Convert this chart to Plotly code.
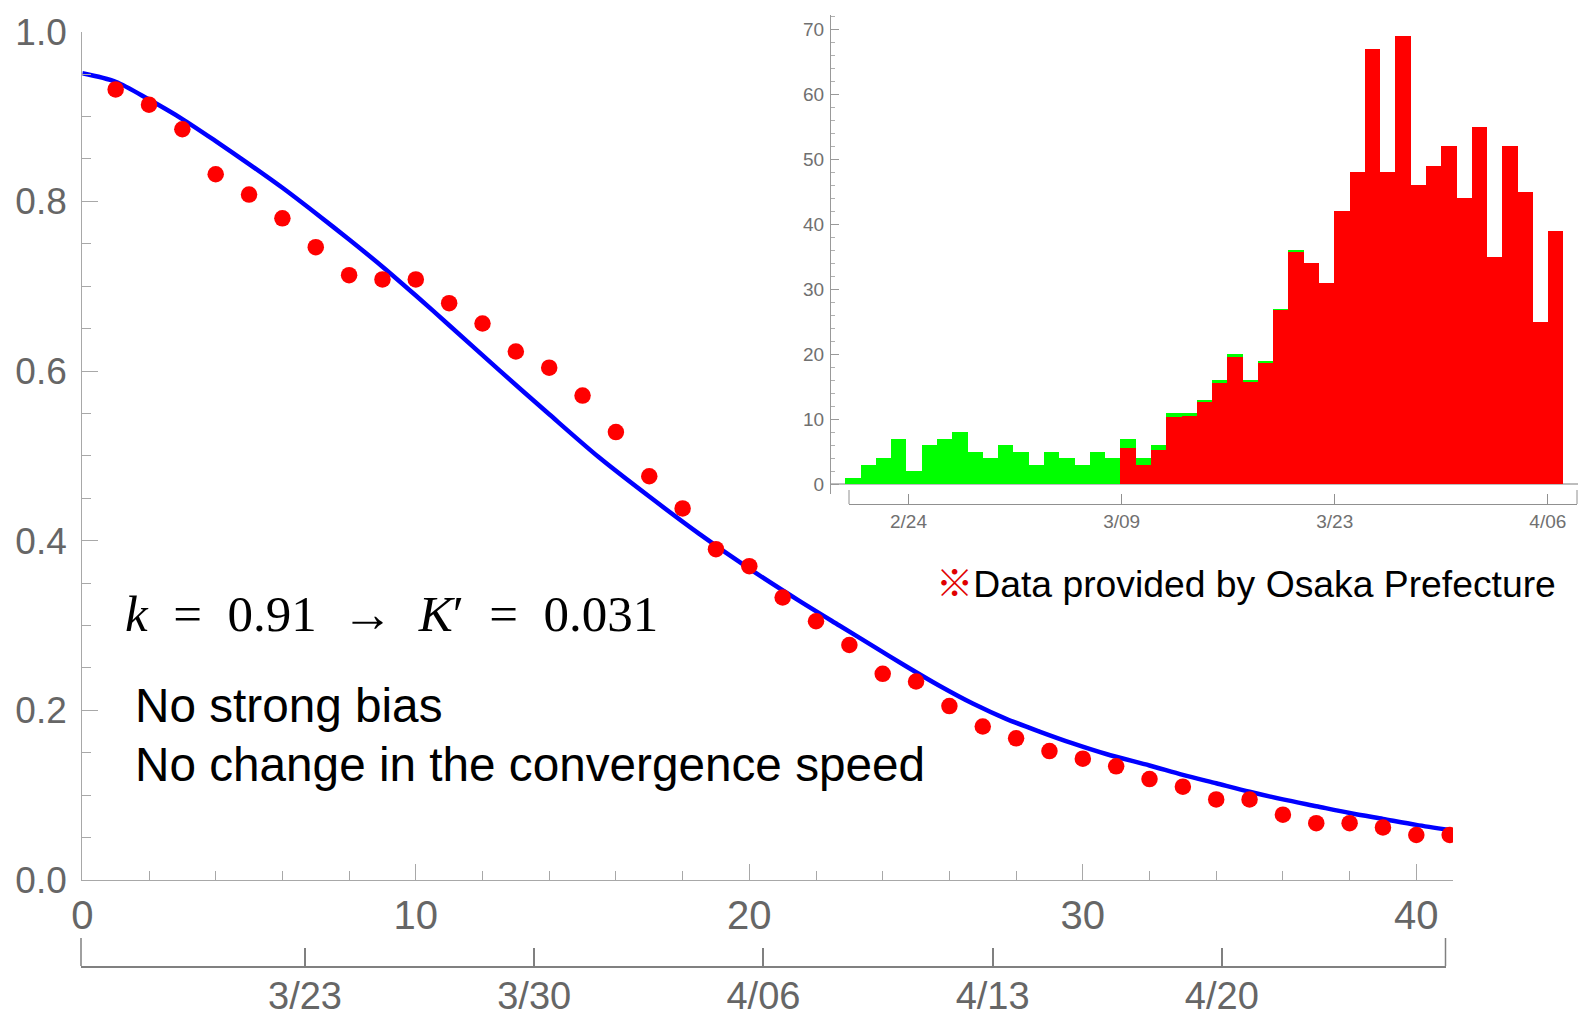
import plotly.graph_objects as go
import pandas as pd

W, H = 1578, 1019

# ---------------- data ----------------
day = list(range(1, 42))
observed = [0.932, 0.914, 0.885, 0.832, 0.808, 0.780, 0.746, 0.713, 0.708, 0.708,
            0.680, 0.656, 0.623, 0.604, 0.571, 0.528, 0.476, 0.438, 0.390, 0.370,
            0.333, 0.305, 0.277, 0.243, 0.234, 0.205, 0.181, 0.167, 0.152, 0.143,
            0.134, 0.119, 0.110, 0.095, 0.095, 0.077, 0.067, 0.067, 0.062, 0.053, 0.053]

fit_t = [0, 1, 2, 3, 4, 5, 6, 7, 8, 9, 10, 11, 12.5, 14, 15.5, 17, 18.5, 20, 21.5,
         22.7, 23.7, 24.7, 25.7, 26.7, 27.7, 28.7, 29.7, 30.7, 32, 33, 34, 35, 36,
         37, 38, 39, 40, 41]
fit_v = [0.951, 0.941, 0.920, 0.897, 0.871, 0.844, 0.816, 0.786, 0.755, 0.723,
         0.689, 0.654, 0.601, 0.549, 0.498, 0.452, 0.408, 0.367, 0.329,
         0.300, 0.276, 0.252, 0.229, 0.208, 0.190, 0.175, 0.161, 0.1485, 0.135,
         0.124, 0.114, 0.104, 0.095, 0.087, 0.079, 0.072, 0.065, 0.059]

x_ticks = [0, 10, 20, 30, 40]
y_ticks = [0.0, 0.2, 0.4, 0.6, 0.8, 1.0]
y_tick_text = ["0.0", "0.2", "0.4", "0.6", "0.8", "1.0"]

date_ticks = ["2020-03-23", "2020-03-30", "2020-04-06", "2020-04-13", "2020-04-20"]
date_tick_text = ["3/23", "3/30", "4/06", "4/13", "4/20"]
date_range = ["2020-03-16 03:50", "2020-04-26 19:55"]

# inset histogram (daily new cases)
inset_total = [1, 3, 4, 7, 2, 6, 7, 8, 5, 4, 6, 5, 3, 5, 4, 3, 5, 4, 7, 4, 6, 11, 11,
               13, 16, 20, 16, 19, 27, 36, 34, 31, 42, 48, 67, 48, 69, 46, 49, 52,
               44, 55, 35, 52, 45, 25, 39]
inset_red = [0, 0, 0, 0, 0, 0, 0, 0, 0, 0, 0, 0, 0, 0, 0, 0, 0, 0, 5.6, 3.0, 5.2,
             10.3, 10.4, 12.7, 15.6, 19.6, 15.7, 18.7, 26.8, 35.7, 34, 31, 42, 48,
             67, 48, 69, 46, 49, 52, 44, 55, 35, 52, 45, 25, 39]
inset_dates = pd.date_range("2020-02-20", periods=len(inset_total))
inset_date_ticks = ["2020-02-24", "2020-03-09", "2020-03-23", "2020-04-06"]
inset_date_text = ["2/24", "3/09", "3/23", "4/06"]
inset_y_ticks = [0, 10, 20, 30, 40, 50, 60, 70]
inset_date_range = ["2020-02-20 02:10", "2020-04-07 22:00"]

DAY_MS = 86400000


def px(x):
    return x / W


def py(y):
    return 1 - y / H


GRAY_TXT = "#666666"
SANS = "Liberation Sans, Arial, sans-serif"

fig = go.Figure()

fig.add_trace(go.Scatter(x=fit_t, y=fit_v, mode="lines",
                         line=dict(color="#0000ff", width=4.5, shape="spline", smoothing=0.8),
                         xaxis="x", yaxis="y", hoverinfo="skip"))
fig.add_trace(go.Scatter(x=day, y=observed, mode="markers",
                         marker=dict(color="#ff0000", size=16.5, line=dict(width=0)),
                         xaxis="x", yaxis="y"))

# carriers for the date axes
for xa, yax, rng in [("x2", "y2", date_range), ("x5", "y5", inset_date_range)]:
    fig.add_trace(go.Scatter(x=rng, y=[0, 0], mode="markers",
                             marker=dict(size=1, opacity=0), xaxis=xa, yaxis=yax,
                             hoverinfo="skip"))

# inset bars
fig.add_trace(go.Bar(x=inset_dates, y=inset_total, marker=dict(color="#00ff00", line=dict(width=0)),
                     width=DAY_MS, offset=-0.2 * DAY_MS, xaxis="x4", yaxis="y4"))
fig.add_trace(go.Bar(x=inset_dates, y=[v if v > 0 else None for v in inset_red],
                     marker=dict(color="#ff0000", line=dict(width=0)),
                     width=DAY_MS, offset=-0.2 * DAY_MS, xaxis="x4", yaxis="y4"))

axis_line = "#a8a8a8"
DATE_LINE_Y = 966
INSET_DATE_LINE_Y = 504

fig.update_layout(
    width=W, height=H,
    margin=dict(l=0, r=0, t=0, b=0, autoexpand=False),
    paper_bgcolor="white", plot_bgcolor="rgba(0,0,0,0)",
    showlegend=False, barmode="overlay", bargap=0,
    xaxis=dict(domain=[px(82.3), px(1453)], range=[0, 41.1], anchor="y", automargin=False,
               showline=True, linecolor=axis_line, linewidth=1.3,
               ticks="inside", ticklen=16, tickwidth=1, tickcolor=axis_line,
               tickvals=x_ticks, ticktext=[str(v) for v in x_ticks],
               minor=dict(tickvals=[v for v in range(2, 41, 2) if v % 10], ticks="inside",
                          ticklen=9, tickcolor=axis_line, tickwidth=1),
               showgrid=False, zeroline=False,
               tickfont=dict(family=SANS, size=40, color=GRAY_TXT)),
    yaxis=dict(domain=[py(880), py(31.7)], range=[0, 1], anchor="x", automargin=False,
               showline=True, linecolor=axis_line, linewidth=1.3,
               ticks="inside", ticklen=16, tickwidth=1, tickcolor=axis_line,
               tickvals=y_ticks, ticktext=y_tick_text, ticklabelstandoff=7,
               minor=dict(tickvals=[i * 0.05 for i in range(1, 20) if i % 4], ticks="inside",
                          ticklen=9, tickcolor=axis_line, tickwidth=1),
               showgrid=False, zeroline=False,
               tickfont=dict(family=SANS, size=37, color=GRAY_TXT)),
    xaxis2=dict(type="date", domain=[px(81), px(1445.5)], range=date_range, anchor="y2",
                automargin=False,
                showline=True, linecolor="#808080", linewidth=1.5,
                ticks="inside", ticklen=18, tickwidth=1.5, tickcolor="#808080",
                tickvals=date_ticks, ticktext=date_tick_text, showgrid=False, zeroline=False,
                ticklabelstandoff=-4,
                tickfont=dict(family=SANS, size=38, color=GRAY_TXT)),
    yaxis2=dict(domain=[py(DATE_LINE_Y), py(DATE_LINE_Y - 8)], range=[1, 2], anchor="x2",
                visible=False, automargin=False),
    # inset
    xaxis4=dict(type="date", domain=[px(831), 1.0], automargin=False,
                range=["2020-02-18 20:38", "2020-04-07 18:00"], anchor="y4", visible=False),
    yaxis4=dict(domain=[py(494), py(15)], range=[-1.54, 72.2], anchor="x4", automargin=False,
                showline=True, linecolor="#999999", linewidth=1,
                ticks="inside", ticklen=8, tickwidth=1, tickcolor="#999999",
                tickvals=inset_y_ticks, ticklabelstandoff=2,
                minor=dict(dtick=2, ticks="inside", ticklen=4, tickcolor="#b0b0b0", tickwidth=1),
                showgrid=False, zeroline=True, zerolinecolor="#bdbdbd", zerolinewidth=1.5,
                tickfont=dict(family=SANS, size=19, color="#707070")),
    xaxis5=dict(type="date", domain=[px(849), px(1577)], range=inset_date_range, anchor="y5",
                automargin=False,
                showline=True, linecolor="#909090", linewidth=1.2,
                ticks="inside", ticklen=10, tickwidth=1, tickcolor="#909090",
                tickvals=inset_date_ticks, ticktext=inset_date_text,
                showgrid=False, zeroline=False,
                tickfont=dict(family=SANS, size=19, color="#707070")),
    yaxis5=dict(domain=[py(INSET_DATE_LINE_Y), py(INSET_DATE_LINE_Y - 5)], range=[1, 2],
                anchor="x5", visible=False, automargin=False),
)

# taller end ticks closing both date axes
for xref, y0, y1, col, wid in [
    ("x2 domain", DATE_LINE_Y, DATE_LINE_Y - 28, "#808080", 1.5),
    ("x5 domain", INSET_DATE_LINE_Y, INSET_DATE_LINE_Y - 14, "#909090", 1.0),
]:
    for xd in (0, 1):
        fig.add_shape(type="line", xref=xref, yref="paper", x0=xd, x1=xd,
                      y0=py(y0), y1=py(y1), line=dict(color=col, width=wid))

fig.add_annotation(x=px(123), y=py(614), xref="paper", yref="paper",
                   xanchor="left", yanchor="middle", showarrow=False,
                   text="<i>k</i>\u2002=\u20020.91\u2002\u2192\u2002<i>K</i>\u2032\u2002=\u20020.031",
                   font=dict(family="Liberation Serif, DejaVu Serif, serif", size=51, color="black"))
fig.add_annotation(x=px(133), y=py(705), xref="paper", yref="paper",
                   xanchor="left", yanchor="middle", showarrow=False,
                   text="No strong bias",
                   font=dict(family=SANS, size=47.7, color="black"))
fig.add_annotation(x=px(133), y=py(764), xref="paper", yref="paper",
                   xanchor="left", yanchor="middle", showarrow=False,
                   text="No change in the convergence speed",
                   font=dict(family=SANS, size=47.7, color="black"))
fig.add_annotation(x=px(934), y=py(584), xref="paper", yref="paper",
                   xanchor="left", yanchor="middle", showarrow=False,
                   text="<span style='color:#e00000'>\u203b</span>Data provided by Osaka Prefecture",
                   font=dict(family="Liberation Sans, Arial, Noto Sans CJK JP, sans-serif",
                             size=37.3, color="black"))

fig.write_html("out.html", post_script="document.body.style.margin='0';",
               config={"displayModeBar": False})
